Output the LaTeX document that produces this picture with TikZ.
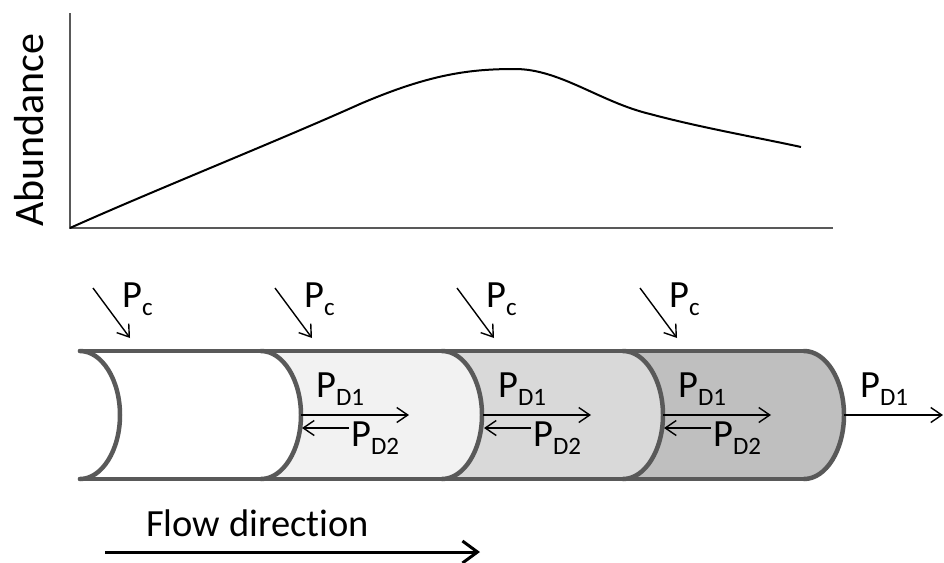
\documentclass[tikz,border=0pt]{standalone}
\usepackage{fontspec}
\setmainfont[Ligatures=NoCommon]{Carlito}
\usetikzlibrary{arrows.meta}
\definecolor{tubeline}{HTML}{595959}
\definecolor{fillA}{HTML}{F2F2F2}
\definecolor{fillB}{HTML}{D9D9D9}
\definecolor{fillC}{HTML}{BFBFBF}
\newcommand\Psub[1]{P\raisebox{-8pt}{\fontsize{25}{25}\selectfont #1}}
\tikzset{
  tube/.style={draw=tubeline, line width=4.5pt, line cap=round, line join=round},
  axis/.style={draw=tubeline, line width=2.2pt},
  curveline/.style={draw=black, line width=2pt},
  flux/.style={draw=black, line width=1.4pt, -{Straight Barb[length=11pt,width=15pt,line width=1.4pt]}},
  flowarrow/.style={draw=black, line width=3pt, -{Straight Barb[length=15pt,width=22pt,line width=3pt]}},
  lbl/.style={inner sep=0pt, anchor=base west, font=\fontsize{38.5}{38.5}\selectfont}
}
\begin{document}
\begin{tikzpicture}[x=1pt,y=-1pt]
\useasboundingbox (0,0) rectangle (944,562);
% ---- plot ----
\coordinate (ytop) at (70,13);
\coordinate (orig) at (70,228);
\coordinate (xend) at (833,228);
\draw[axis] (ytop) -- (orig) -- (xend);
\draw[curveline] (orig) .. controls (150,192) and (280,140) .. (360,104)
  .. controls (430,74) and (470,69) .. (515,69)
  .. controls (560,69) and (600,102) .. (650,114)
  .. controls (700,127.5) and (760,138) .. (801,147);
\node[inner sep=0pt, rotate=90, font=\fontsize{42}{42}\selectfont] (ab) at (29,130) {Abundance};
% ---- tube fills ----
\foreach \a/\b/\col in {261/442/fillA, 442/623/fillB, 623/804/fillC}{
  \fill[\col] (\a,351) -- (\b,351)
     .. controls (\b+22,351) and (\b+40,380) .. (\b+40,415)
     .. controls (\b+40,450) and (\b+22,479) .. (\b,479)
     -- (\a,479)
     .. controls (\a+22,479) and (\a+40,450) .. (\a+40,415)
     .. controls (\a+40,380) and (\a+22,351) .. (\a,351) -- cycle;
}
% ---- tube outline ----
\coordinate (tl) at (80,351); \coordinate (tr) at (804,351);
\coordinate (bl) at (80,479); \coordinate (br) at (804,479);
\draw[tube] (tl) -- (tr);
\draw[tube] (bl) -- (br);
\foreach \c in {80,261,442,623,804}{
  \draw[tube] (\c,351) .. controls (\c+22,351) and (\c+40,380) .. (\c+40,415)
     .. controls (\c+40,450) and (\c+22,479) .. (\c,479);
}
% ---- P_c inputs ----
\foreach \s [count=\i] in {93,275,457,640}{
  \coordinate (pcs\i) at (\s,288);
  \coordinate (pce\i) at (\s+37,338);
  \draw[flux] (pcs\i) -- (pce\i);
  \node[lbl] (pc\i) at (\s+29,307) {\Psub{c}};
}
% ---- P_D1 / P_D2 inside ----
\foreach \m [count=\i] in {301,483,663}{
  \coordinate (dm\i) at (\m,415);
  \coordinate (d1e\i) at (\m+108,415);
  \coordinate (d2s\i) at (\m+48,428);
  \coordinate (d2e\i) at (\m+1,428);
  \draw[flux] (dm\i) -- (d1e\i);
  \draw[flux] (d2s\i) -- (d2e\i);
  \node[lbl] (pd1\i) at (\m+15,397) {\Psub{D1}};
  \node[lbl] (pd2\i) at (\m+50,446) {\Psub{D2}};
}
% ---- outflow ----
\coordinate (outs) at (844,415);
\coordinate (oute) at (943,415);
\draw[flux] (outs) -- (oute);
\node[lbl] (pdout) at (860,397) {\Psub{D1}};
% ---- flow direction ----
\coordinate (fs) at (105,552);
\coordinate (fe) at (480,552);
\draw[flowarrow] (fs) -- (fe);
\node[lbl] (flow) at (146,536) {Flow direction};
\end{tikzpicture}
\end{document}
